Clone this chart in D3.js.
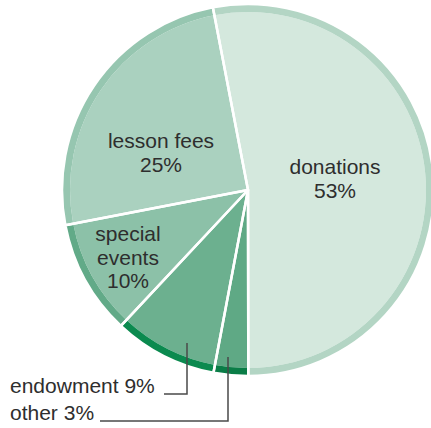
<!DOCTYPE html>
<html>
<head>
<meta charset="utf-8">
<script src="https://cdn.jsdelivr.net/npm/d3@7"></script>
<style>
  body { margin: 0; background: #fff; }
  text { font-family: 'Liberation Sans', Arial, sans-serif; fill: #2e2e2e; }
</style>
</head>
<body>
<script>
const categories = ['donations', 'other', 'endowment', 'special events', 'lesson fees']
const shares = [53, 3, 9, 10, 25]
const fills = ['#d4e8dd', '#5fa985', '#6cb08f', '#8cc1a8', '#aad1bf']
const rims = ['#b3d5c4', '#0a7d47', '#0b8a4f', '#62aa88', '#96c6b0']

const width = 431, height = 428
const cx = 248, cy = 190, r = 186, rim = 8
const start = -10.9 * Math.PI / 180

const data = categories.map((c, i) => ({ name: c, value: shares[i], fill: fills[i], rim: rims[i] }))

const svg = d3.select('body').append('svg')
    .attr('width', width)
    .attr('height', height)

const g = svg.append('g')
    .attr('transform', `translate(${cx}, ${cy})`)

const pie = d3.pie()
    .sort(null)
    .value(d => d.value)
    .startAngle(start)
    .endAngle(start + 2 * Math.PI)

const arcs = pie(data)

const inner = d3.arc().innerRadius(0).outerRadius(r - rim)
const outer = d3.arc().innerRadius(r - rim).outerRadius(r)
const whole = d3.arc().innerRadius(0).outerRadius(r)

g.selectAll('.slice')
    .data(arcs)
    .enter().append('path')
    .attr('class', 'slice')
    .attr('d', inner)
    .style('fill', d => d.data.fill)

g.selectAll('.rim')
    .data(arcs)
    .enter().append('path')
    .attr('class', 'rim')
    .attr('d', outer)
    .style('fill', d => d.data.rim)

// white separators
g.selectAll('.sep')
    .data(arcs)
    .enter().append('path')
    .attr('class', 'sep')
    .attr('d', whole)
    .style('fill', 'none')
    .style('stroke', '#fff')
    .style('stroke-width', 2.5)
    .style('stroke-linejoin', 'round')

// labels inside the pie
const inside = [
    { x: 335, y: 174, lines: ['donations', '53%'] },
    { x: 161, y: 148, lines: ['lesson fees', '25%'] },
    { x: 128, y: 241, lines: ['special', 'events', '10%'] }
]
inside.forEach(l => {
    const t = svg.append('text')
        .attr('x', l.x)
        .attr('y', l.y)
        .style('font-size', '21px')
        .style('text-anchor', 'middle')
    l.lines.forEach((s, k) => {
        t.append('tspan')
            .attr('x', l.x)
            .attr('dy', k === 0 ? 0 : 23.5)
            .text(s)
    })
})

// callouts for small slices
const callouts = [
    { text: `${categories[2]} ${shares[2]}%`, lx: 187, top: 343, y: 394, end: 164 },
    { text: `${categories[1]} ${shares[1]}%`, lx: 228, top: 357, y: 421, end: 100 }
]
callouts.forEach(c => {
    svg.append('path')
        .attr('d', `M${c.lx},${c.top}V${c.y}H${c.end}`)
        .style('fill', 'none')
        .style('stroke', '#4a4a4a')
        .style('stroke-width', 1.5)
    svg.append('text')
        .attr('x', 10)
        .attr('y', c.y - 1)
        .style('font-size', '21px')
        .text(c.text)
})
</script>
</body>
</html>
